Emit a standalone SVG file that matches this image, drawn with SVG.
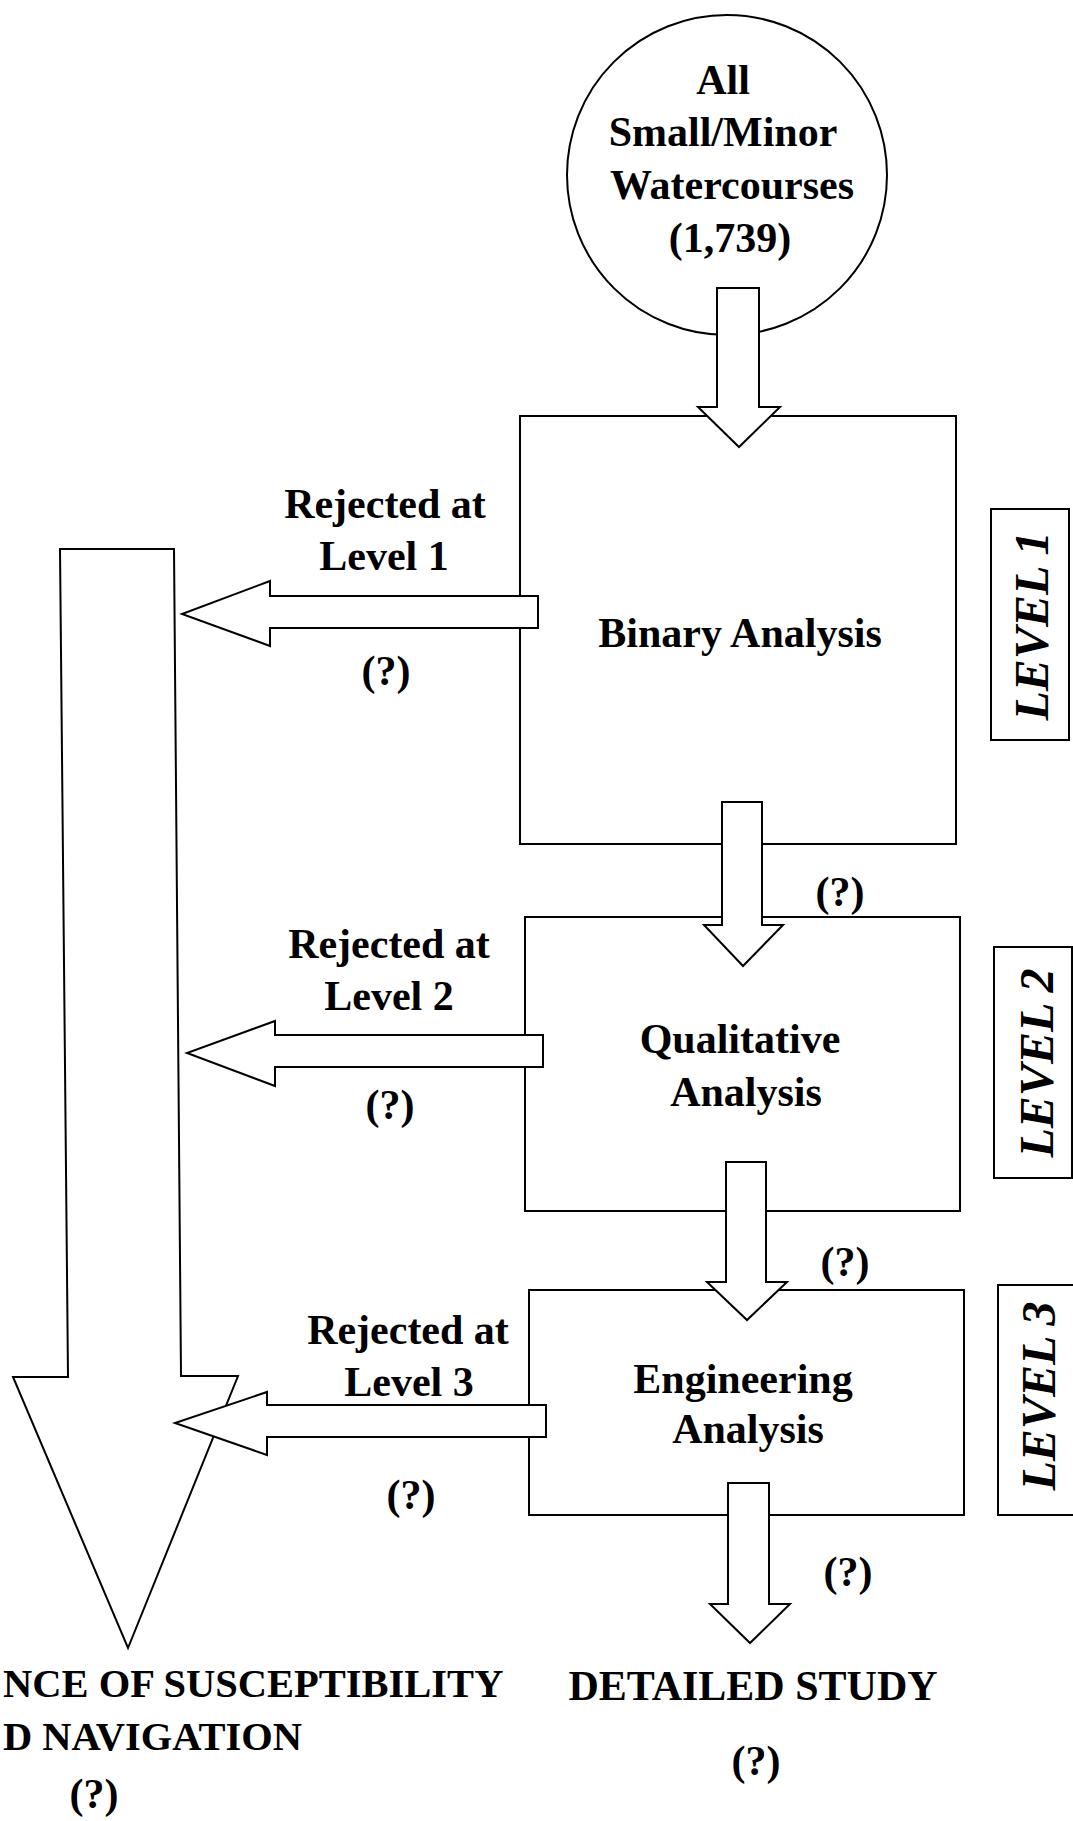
<svg xmlns="http://www.w3.org/2000/svg" width="1073" height="1821" viewBox="0 0 1073 1821">
<style>
.t{font-family:"Liberation Serif","Times New Roman",serif;font-weight:bold;font-size:42px;fill:#000;text-anchor:middle}
.b{font-family:"Liberation Serif","Times New Roman",serif;font-weight:bold;font-size:40.5px;fill:#000;text-anchor:start}
.lv{font-family:"Liberation Serif","Times New Roman",serif;font-weight:bold;font-style:italic;font-size:48px;fill:#000;text-anchor:middle}
.s{fill:#fff;stroke:#000;stroke-width:2;stroke-linejoin:miter}
</style>
<rect width="1073" height="1821" fill="#fff"/>
<g id="start">
<circle class="s" cx="727" cy="175" r="160"/>
<text class="t" x="723" y="94">All</text>
<text class="t" x="723" y="146">Small/Minor</text>
<text class="t" x="732" y="199">Watercourses</text>
<text class="t" x="730" y="252">(1,739)</text>
</g>
<g id="binary">
<rect class="s" x="520" y="416" width="436" height="428"/>
<text class="t" x="740" y="647">Binary Analysis</text>
</g>
<g id="qualitative">
<rect class="s" x="525" y="917" width="435" height="294"/>
<text class="t" x="740" y="1053">Qualitative</text>
<text class="t" x="746" y="1106">Analysis</text>
</g>
<g id="engineering">
<rect class="s" x="529" y="1290" width="435" height="225"/>
<text class="t" x="743" y="1393">Engineering</text>
<text class="t" x="748" y="1443">Analysis</text>
</g>
<g id="level1">
<rect class="s" x="991" y="509" width="78" height="231"/>
<text class="lv" transform="translate(1048,626) rotate(-90)">LEVEL 1</text>
</g>
<g id="level2">
<rect class="s" x="994" y="947" width="78" height="231"/>
<text class="lv" transform="translate(1053,1063) rotate(-90)">LEVEL 2</text>
</g>
<g id="level3">
<rect class="s" x="998" y="1285" width="80" height="230"/>
<text class="lv" transform="translate(1055,1396) rotate(-90)">LEVEL 3</text>
</g>
<g id="connectors">
<polygon class="s" points="60,549 174,549 181,1376 238,1376 128,1648 13,1377 68,1377"/>
<polygon class="s" points="717,288 759,288 759,407 780,407 739,447 698,407 717,407"/>
<polygon class="s" points="722,802 762,802 762,925 783,925 743,966 704,925 722,925"/>
<polygon class="s" points="726,1162 766,1162 766,1282 787,1282 747,1320 707,1282 726,1282"/>
<polygon class="s" points="728,1483 769,1483 769,1604 790,1604 750,1643 710,1604 728,1604"/>
<polygon class="s" points="538,596 270,596 270,581 182,614 270,646 270,628 538,628"/>
<polygon class="s" points="543,1035 275,1035 275,1021 187,1053 275,1086 275,1067 543,1067"/>
<polygon class="s" points="546,1405 267,1405 267,1392 175,1423 267,1455 267,1437 546,1437"/>
</g>
<g id="labels">
<text class="t" x="385" y="518">Rejected at</text>
<text class="t" x="384" y="570">Level 1</text>
<text class="t" x="386" y="685">(?)</text>
<text class="t" x="389" y="958">Rejected at</text>
<text class="t" x="389" y="1010">Level 2</text>
<text class="t" x="390" y="1119">(?)</text>
<text class="t" x="408" y="1344">Rejected at</text>
<text class="t" x="409" y="1396">Level 3</text>
<text class="t" x="411" y="1509">(?)</text>
<text class="t" x="840" y="906">(?)</text>
<text class="t" x="845" y="1276">(?)</text>
<text class="t" x="848" y="1586">(?)</text>
</g>
<g id="detailed">
<text class="t" x="753" y="1700">DETAILED STUDY</text>
<text class="t" x="756" y="1775">(?)</text>
</g>
<g id="absence">
<text class="b" x="3" y="1697">NCE OF SUSCEPTIBILITY</text>
<text class="b" x="3" y="1750">D NAVIGATION</text>
<text class="t" x="94" y="1808">(?)</text>
</g>
</svg>
